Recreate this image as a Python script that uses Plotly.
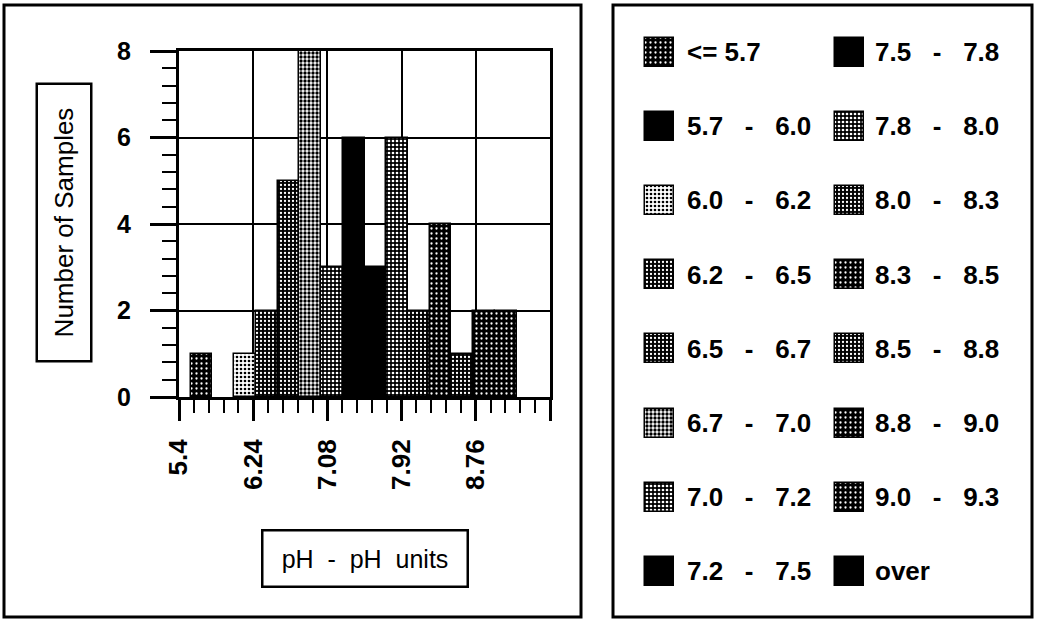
import plotly.graph_objects as go

# ---------------- data ----------------
bin_labels = ["<= 5.7", "5.7 - 6.0", "6.0 - 6.2", "6.2 - 6.5", "6.5 - 6.7", "6.7 - 7.0",
              "7.0 - 7.2", "7.2 - 7.5", "7.5 - 7.8", "7.8 - 8.0", "8.0 - 8.3", "8.3 - 8.5",
              "8.5 - 8.8", "8.8 - 9.0", "9.0 - 9.3", "over"]
sample_counts = [1, 0, 1, 2, 5, 8, 3, 6, 3, 6, 2, 4, 1, 2, 2, 0]
x_tick_values = [5.4, 6.24, 7.08, 7.92, 8.76, 9.6]
x_tick_labels = ["5.4", "6.24", "7.08", "7.92", "8.76", ""]
y_tick_values = [0, 2, 4, 6, 8]
x_title = "pH - pH units"
y_title = "Number of Samples"

# ---------------- styles / layout constants ----------------
W, H = 1037, 619
FONT = "Liberation Sans, Arial, Helvetica, sans-serif"
BIN_START = 5.532      # left edge of first bin slot on the pH axis
BIN_STEP = 0.246       # width of one bin slot on the pH axis

FILLS = {
    "black":    dict(bg="#000000", fg="#000000", shape="", size=4, solidity=0.3),
    "dark":     dict(bg="#000000", fg="#ffffff", shape=".", size=5, solidity=0.16),
    "mdark":    dict(bg="#000000", fg="#ffffff", shape=".", size=4, solidity=0.26),
    "medium":   dict(bg="#000000", fg="#ffffff", shape=".", size=4, solidity=0.36),
    "light":    dict(bg="#ffffff", fg="#000000", shape=".", size=4, solidity=0.55),
    "lightest": dict(bg="#ffffff", fg="#000000", shape=".", size=4, solidity=0.35),
}
bin_fill = ["dark", "black", "lightest", "mdark", "mdark", "light", "medium", "black",
            "black", "medium", "mdark", "dark", "mdark", "dark", "dark", "black"]


def px(x):
    return x / W


def py(y):
    return 1 - y / H


def marker_for(style):
    f = FILLS[style]
    return dict(color=f["bg"], line=dict(color="black", width=1.5),
                pattern=dict(shape=f["shape"], bgcolor=f["bg"], fgcolor=f["fg"],
                             size=f["size"], solidity=f["solidity"], fillmode="replace"))


fig = go.Figure()

# histogram bars
for i, (lab, cnt) in enumerate(zip(bin_labels, sample_counts)):
    if cnt == 0:
        continue
    fig.add_trace(go.Bar(
        x=[BIN_START + BIN_STEP * (i + 0.5)], y=[cnt], width=BIN_STEP,
        name=lab, marker=marker_for(bin_fill[i]), showlegend=False,
        xaxis="x", yaxis="y"))

# legend swatches (drawn as bars on a pixel-scaled helper axis)
SW = 29
col_x = [659.5, 849.5]
col_text_x = [685, 873]
row_y0, row_dy = 52, 74.2
annotations = []
for i, lab in enumerate(bin_labels):
    col, row = divmod(i, 8)
    cy = row_y0 + row_dy * row
    fig.add_trace(go.Bar(
        x=[col_x[col]], y=[SW], base=[cy - SW / 2], width=SW,
        marker=marker_for(bin_fill[i]), showlegend=False,
        xaxis="x2", yaxis="y2", hoverinfo="skip"))
    shown = lab.replace(" - ", "\u00a0\u00a0\u00a0-\u00a0\u00a0\u00a0")
    annotations.append(dict(
        text=shown, x=px(col_text_x[col]), y=py(cy), xref="paper", yref="paper",
        xanchor="left", yanchor="middle", showarrow=False,
        font=dict(family=FONT, size=26, color="black", weight="bold")))

# axis titles in boxes
annotations.append(dict(
    text=x_title.replace(" - ", "\u00a0\u00a0-\u00a0\u00a0").replace("pH units", "pH\u00a0\u00a0units"),
    x=px(364.5), y=py(558), xref="paper", yref="paper",
    xanchor="center", yanchor="middle", showarrow=False,
    width=203, height=54, borderpad=0, bordercolor="black", borderwidth=2.5,
    font=dict(family=FONT, size=25, color="black")))
annotations.append(dict(
    text=y_title, x=px(64), y=py(222.5), xref="paper", yref="paper",
    xanchor="center", yanchor="middle", showarrow=False, textangle=-90,
    width=275, height=52, borderpad=0, bordercolor="black", borderwidth=2.5,
    font=dict(family=FONT, size=26, color="black")))

shapes = [
    dict(type="rect", xref="paper", yref="paper", x0=px(4), x1=px(581), y0=py(617), y1=py(5),
         line=dict(color="black", width=3)),
    dict(type="rect", xref="paper", yref="paper", x0=px(613), x1=px(1032), y0=py(617), y1=py(5),
         line=dict(color="black", width=3)),
]

fig.update_layout(
    width=W, height=H,
    margin=dict(l=0, r=0, t=0, b=0),
    paper_bgcolor="white", plot_bgcolor="white",
    barmode="overlay", bargap=0,
    showlegend=False,
    annotations=annotations, shapes=shapes,
    xaxis=dict(
        domain=[px(179), px(550)], range=[5.4, 9.6], anchor="y",
        tickmode="array", tickvals=x_tick_values, ticktext=x_tick_labels,
        ticks="outside", ticklen=21, tickwidth=2.5, tickcolor="black",
        tickangle=-90, ticklabelstandoff=8,
        tickfont=dict(family=FONT, size=26, color="black", weight="bold"),
        showline=True, linecolor="black", linewidth=3, mirror=True,
        showgrid=True, gridcolor="black", gridwidth=2, zeroline=False,
        minor=dict(tick0=5.4, dtick=0.168, ticks="outside", ticklen=13, tickwidth=2,
                   tickcolor="black", showgrid=False),
        automargin=False, fixedrange=True),
    yaxis=dict(
        domain=[py(397), py(51)], range=[0, 8], anchor="x",
        tickmode="array", tickvals=y_tick_values,
        ticks="outside", ticklen=26, tickwidth=2.5, tickcolor="black",
        ticklabelstandoff=14,
        tickfont=dict(family=FONT, size=25, color="black", weight="bold"),
        showline=True, linecolor="black", linewidth=3, mirror=True,
        showgrid=True, gridcolor="black", gridwidth=2, zeroline=False,
        minor=dict(tick0=0, dtick=0.4, ticks="outside", ticklen=14, tickwidth=2,
                   tickcolor="black", showgrid=False),
        automargin=False, fixedrange=True),
    xaxis2=dict(domain=[px(613), px(1032)], range=[613, 1032], anchor="y2",
                visible=False, fixedrange=True),
    yaxis2=dict(domain=[0, 1], range=[619, 0], anchor="x2",
                visible=False, fixedrange=True),
)

fig.write_html(
    "out.html",
    config={"displayModeBar": False},
    post_script="document.body.style.margin='0';document.body.style.overflow='hidden';",
)
